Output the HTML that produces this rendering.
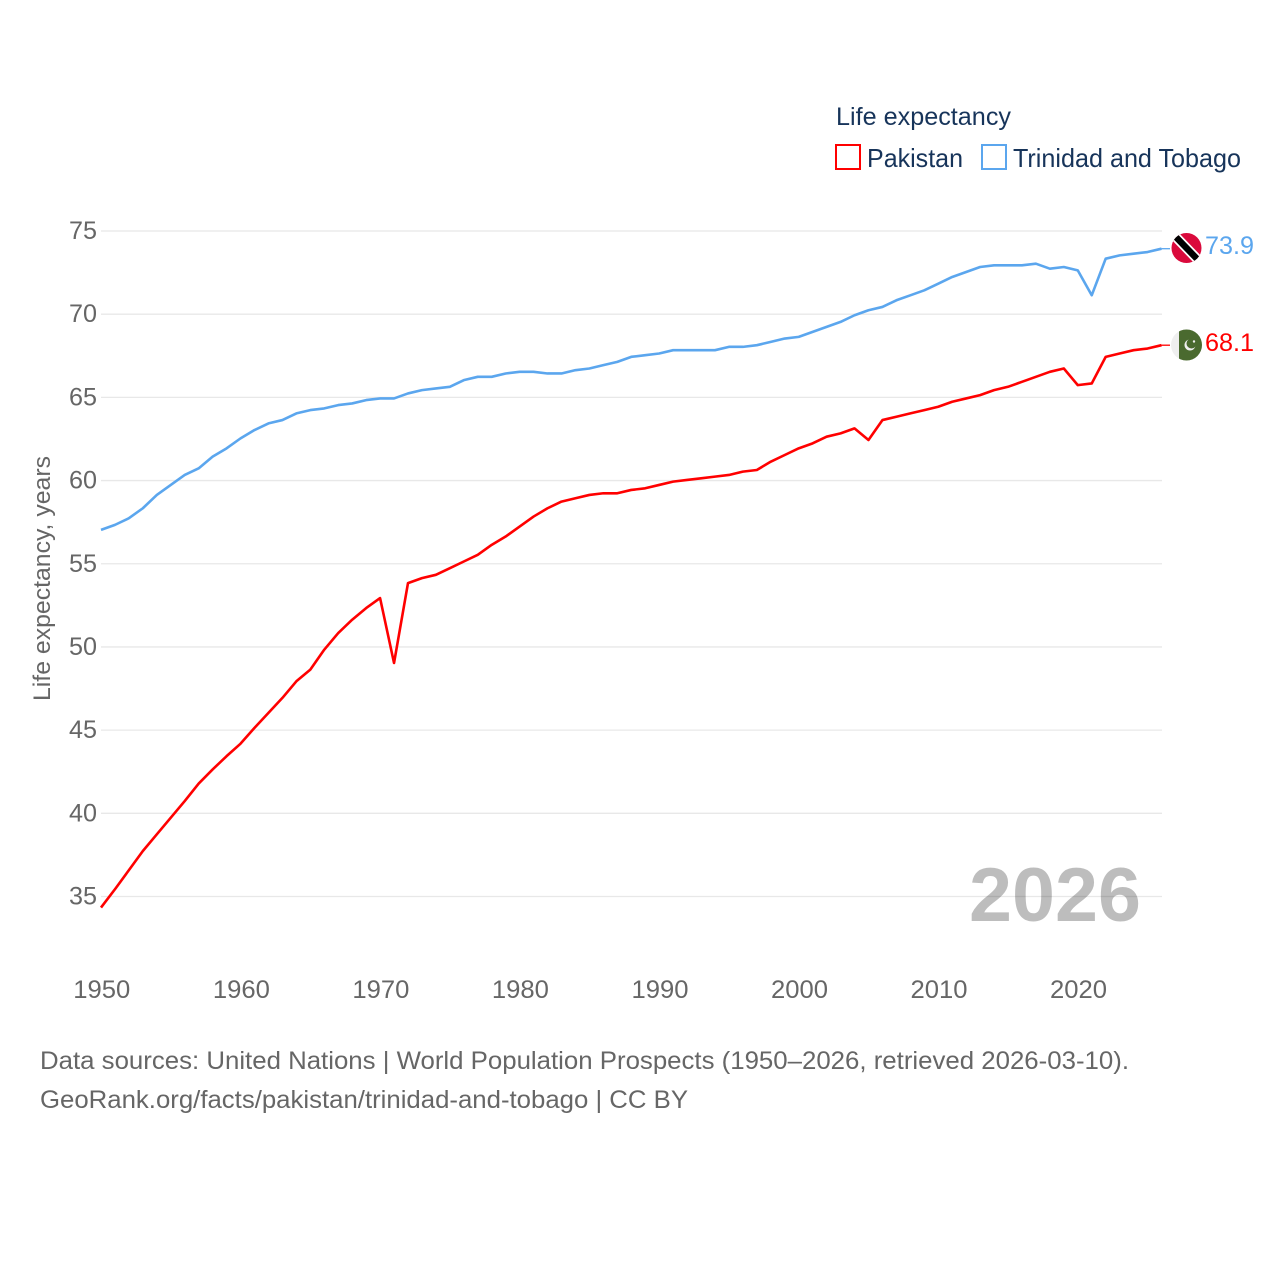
<!DOCTYPE html>
<html lang="en">
<head>
<meta charset="utf-8">
<title>Life expectancy: Pakistan and Trinidad and Tobago</title>
<style>
html,body{margin:0;padding:0;background:#fff;width:1280px;height:1280px;overflow:hidden}
svg{display:block}
text{font-family:"Liberation Sans",sans-serif}
</style>
</head>
<body>
<svg id="chart" xmlns="http://www.w3.org/2000/svg" width="1280" height="1280" viewBox="0 0 1280 1280">
  <defs>
    <clipPath id="tt-clip"><circle cx="1186.5" cy="248" r="15"/></clipPath>
    <clipPath id="pk-clip"><circle cx="1186.5" cy="345" r="15.5"/></clipPath>
  </defs>
  <g id="grid"></g>
  <g id="yticks"></g>
  <g id="xticks"></g>
  <text transform="translate(50,701) rotate(-90)" font-size="24" fill="#666" textLength="245" lengthAdjust="spacingAndGlyphs">Life expectancy, years</text>
  <text x="969" y="921" font-size="76" font-weight="bold" fill="#000" fill-opacity="0.26" textLength="172" lengthAdjust="spacingAndGlyphs">2026</text>
  <g id="series" transform="translate(0,-0.6)"></g>

  <g clip-path="url(#tt-clip)">
    <rect x="1170" y="232" width="33" height="32" fill="#da0a3c"/>
    <line x1="1172" y1="233" x2="1201" y2="263" stroke="#fff" stroke-width="10"/>
    <line x1="1172" y1="233" x2="1201" y2="263" stroke="#000" stroke-width="6.5"/>
  </g>
  <g clip-path="url(#pk-clip)">
    <rect x="1170" y="329" width="33" height="32" fill="#efefef"/>
    <rect x="1179" y="329" width="24" height="32" fill="#4a6a2f"/>
    <circle cx="1190" cy="345" r="5.5" fill="#efefef"/>
    <circle cx="1191.5" cy="343.5" r="5" fill="#4a6a2f"/>
    <circle cx="1194" cy="341.5" r="1.2" fill="#efefef"/>
  </g>
  <text x="1205" y="254" font-size="25" fill="#5ba6ee" textLength="49" lengthAdjust="spacingAndGlyphs">73.9</text>
  <text x="1205" y="351" font-size="25" fill="#ff0000" textLength="49" lengthAdjust="spacingAndGlyphs">68.1</text>

  <g>
    <text x="836" y="125" font-size="25" fill="#17345a" textLength="175" lengthAdjust="spacingAndGlyphs">Life expectancy</text>
    <rect x="836" y="145" width="24" height="24" fill="#fff" stroke="#ff0000" stroke-width="2"/>
    <text x="867" y="167" font-size="26" fill="#17345a" textLength="96" lengthAdjust="spacingAndGlyphs">Pakistan</text>
    <rect x="982" y="145" width="24" height="24" fill="#fff" stroke="#5ba6ee" stroke-width="2"/>
    <text x="1013" y="167" font-size="26" fill="#17345a" textLength="228" lengthAdjust="spacingAndGlyphs">Trinidad and Tobago</text>
  </g>

  <g>
    <text x="40" y="1069" font-size="25" fill="#666" textLength="1089" lengthAdjust="spacingAndGlyphs">Data sources: United Nations | World Population Prospects (1950–2026, retrieved 2026-03-10).</text>
    <text x="40" y="1108" font-size="25" fill="#666" textLength="648" lengthAdjust="spacingAndGlyphs">GeoRank.org/facts/pakistan/trinidad-and-tobago | CC BY</text>
  </g>
</svg>
<script>
const years = [1950,1951,1952,1953,1954,1955,1956,1957,1958,1959,1960,1961,1962,1963,1964,1965,1966,1967,1968,1969,1970,1971,1972,1973,1974,1975,1976,1977,1978,1979,1980,1981,1982,1983,1984,1985,1986,1987,1988,1989,1990,1991,1992,1993,1994,1995,1996,1997,1998,1999,2000,2001,2002,2003,2004,2005,2006,2007,2008,2009,2010,2011,2012,2013,2014,2015,2016,2017,2018,2019,2020,2021,2022,2023,2024,2025,2026];
const pakistan = [34.3,35.4,36.55,37.7,38.7,39.7,40.7,41.75,42.6,43.4,44.15,45.1,46.0,46.9,47.9,48.6,49.8,50.8,51.6,52.3,52.9,49.0,53.8,54.1,54.3,54.7,55.1,55.5,56.1,56.6,57.2,57.8,58.3,58.7,58.9,59.1,59.2,59.2,59.4,59.5,59.7,59.9,60.0,60.1,60.2,60.3,60.5,60.6,61.1,61.5,61.9,62.2,62.6,62.8,63.1,62.4,63.6,63.8,64.0,64.2,64.4,64.7,64.9,65.1,65.4,65.6,65.9,66.2,66.5,66.7,65.7,65.8,67.4,67.6,67.8,67.9,68.1];
const trinidad = [57.0,57.3,57.7,58.3,59.1,59.7,60.3,60.7,61.4,61.9,62.5,63.0,63.4,63.6,64.0,64.2,64.3,64.5,64.6,64.8,64.9,64.9,65.2,65.4,65.5,65.6,66.0,66.2,66.2,66.4,66.5,66.5,66.4,66.4,66.6,66.7,66.9,67.1,67.4,67.5,67.6,67.8,67.8,67.8,67.8,68.0,68.0,68.1,68.3,68.5,68.6,68.9,69.2,69.5,69.9,70.2,70.4,70.8,71.1,71.4,71.8,72.2,72.5,72.8,72.9,72.9,72.9,73.0,72.7,72.8,72.6,71.1,73.3,73.5,73.6,73.7,73.9];
const yTickLabels = [35,40,45,50,55,60,65,70,75];
const xTickLabels = [1950,1960,1970,1980,1990,2000,2010,2020];

const NS = 'http://www.w3.org/2000/svg';
function xScale(year){ return 101 + (year - 1950) * (1161.5 - 101) / 76; }
function yScale(value){ return 231 + (75 - value) * (896.5 - 231) / 40; }

const grid = document.getElementById('grid');
const yticks = document.getElementById('yticks');
const xticks = document.getElementById('xticks');
const seriesGroup = document.getElementById('series');

yTickLabels.forEach(function(v){
  const line = document.createElementNS(NS, 'line');
  
  
  line.setAttribute('x1', 101);
  line.setAttribute('x2', 1162);
  line.setAttribute('y1', yScale(v));
  line.setAttribute('y2', yScale(v));
  line.setAttribute('stroke', '#e8e8e8');
  line.setAttribute('stroke-width', '1.3');
  grid.appendChild(line);

  const t = document.createElementNS(NS, 'text');
  
  
  t.setAttribute('x', 69);
  t.setAttribute('y', yScale(v) + 8);
  t.setAttribute('font-size', '25');
  t.setAttribute('fill', '#666');
  t.setAttribute('textLength', '28');
  t.setAttribute('lengthAdjust', 'spacingAndGlyphs');
  t.textContent = v;
  yticks.appendChild(t);
});

xTickLabels.forEach(function(y){
  const t = document.createElementNS(NS, 'text');
  
  
  t.setAttribute('x', xScale(y) - 27.7);
  t.setAttribute('y', 998);
  t.setAttribute('font-size', '25');
  t.setAttribute('fill', '#666');
  t.setAttribute('textLength', '57');
  t.setAttribute('lengthAdjust', 'spacingAndGlyphs');
  t.textContent = y;
  xticks.appendChild(t);
});

function linePoints(values){
  return values.map(function(v, i){
    return xScale(years[i]).toFixed(2) + ',' + yScale(v).toFixed(2);
  }).join(' ');
}

const trinidadLine = document.createElementNS(NS, 'polyline');


trinidadLine.setAttribute('points', linePoints(trinidad));
trinidadLine.setAttribute('fill', 'none');
trinidadLine.setAttribute('stroke', '#5ba6ee');
trinidadLine.setAttribute('stroke-width', '2.6');
trinidadLine.setAttribute('stroke-linejoin', 'round');
seriesGroup.appendChild(trinidadLine);

const pakistanLine = document.createElementNS(NS, 'polyline');


pakistanLine.setAttribute('points', linePoints(pakistan));
pakistanLine.setAttribute('fill', 'none');
pakistanLine.setAttribute('stroke', '#ff0000');
pakistanLine.setAttribute('stroke-width', '2.6');
pakistanLine.setAttribute('stroke-linejoin', 'round');
seriesGroup.appendChild(pakistanLine);

const trinidadLead = document.createElementNS(NS, 'line');


trinidadLead.setAttribute('x1', xScale(2026));
trinidadLead.setAttribute('x2', 1170);
trinidadLead.setAttribute('y1', yScale(trinidad[trinidad.length - 1]));
trinidadLead.setAttribute('y2', yScale(trinidad[trinidad.length - 1]));
trinidadLead.setAttribute('stroke', '#5ba6ee');
trinidadLead.setAttribute('stroke-width', '1.3');
seriesGroup.appendChild(trinidadLead);

const pakistanLead = document.createElementNS(NS, 'line');


pakistanLead.setAttribute('x1', xScale(2026));
pakistanLead.setAttribute('x2', 1170);
pakistanLead.setAttribute('y1', yScale(pakistan[pakistan.length - 1]));
pakistanLead.setAttribute('y2', yScale(pakistan[pakistan.length - 1]));
pakistanLead.setAttribute('stroke', '#ff0000');
pakistanLead.setAttribute('stroke-width', '1.3');
seriesGroup.appendChild(pakistanLead);
</script>
</body>
</html>
